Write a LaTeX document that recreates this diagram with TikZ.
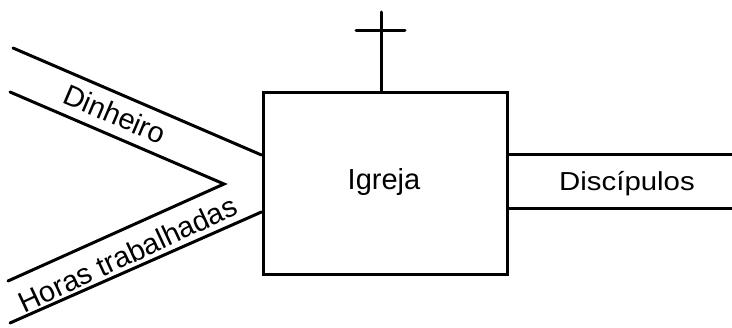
\documentclass[tikz,border=0pt]{standalone}
\usepackage{fontspec}
\setmainfont{Liberation Sans}
\usetikzlibrary{positioning}
\begin{document}
\begin{tikzpicture}[x=1pt,y=-1pt]
    \tikzstyle{flow} = [line width=3pt, line cap=round]
    \tikzstyle{boxnode} = [draw, line width=3pt, minimum width=244pt, minimum height=182pt, inner sep=0pt]
    \tikzstyle{annot} = [font=\fontsize{29}{34}\selectfont, inner sep=0pt]
    \useasboundingbox (0,0) rectangle (732,328);
%    church and its cross
    \node[boxnode] (church) at (385,184) {};
    \node[annot] (lchurch) at (384,182) {Igreja};
    \coordinate (crosstop) at (381,12);
    \coordinate (barleft) at (356,31);
    \coordinate (barright) at (405,31);
    \draw[flow] ([xshift=-4pt]church.north) -- (crosstop);
    \draw[flow] (barleft) -- (barright);
%    incoming channels
    \coordinate (dtop) at (13,48);
    \coordinate (dbot) at (10,92);
    \coordinate (apex) at (224,184);
    \coordinate (htop) at (8,281);
    \coordinate (hbot) at (10,323);
    \draw[flow] (dtop) -- ([yshift=29pt]church.west);
    \draw[flow] (dbot) -- (apex) -- (htop);
    \draw[flow] (hbot) -- ([yshift=-28pt]church.west);
    \node[annot, rotate=-23] (ldin) at (115,114) {Dinheiro};
    \node[annot, rotate=25] (lhoras) at (128,254) {Horas trabalhadas};
%    outgoing channel
    \coordinate (otop) at (732,155);
    \coordinate (obot) at (732,209);
    \draw[flow] ([yshift=29pt]church.east) -- (otop);
    \draw[flow] ([yshift=-25pt]church.east) -- (obot);
    \node[annot, font=\fontsize{26}{30}\selectfont] (ldisc) at (627,184) {\scalebox{1.13}[1]{Discípulos}};
\end{tikzpicture}
\end{document}
